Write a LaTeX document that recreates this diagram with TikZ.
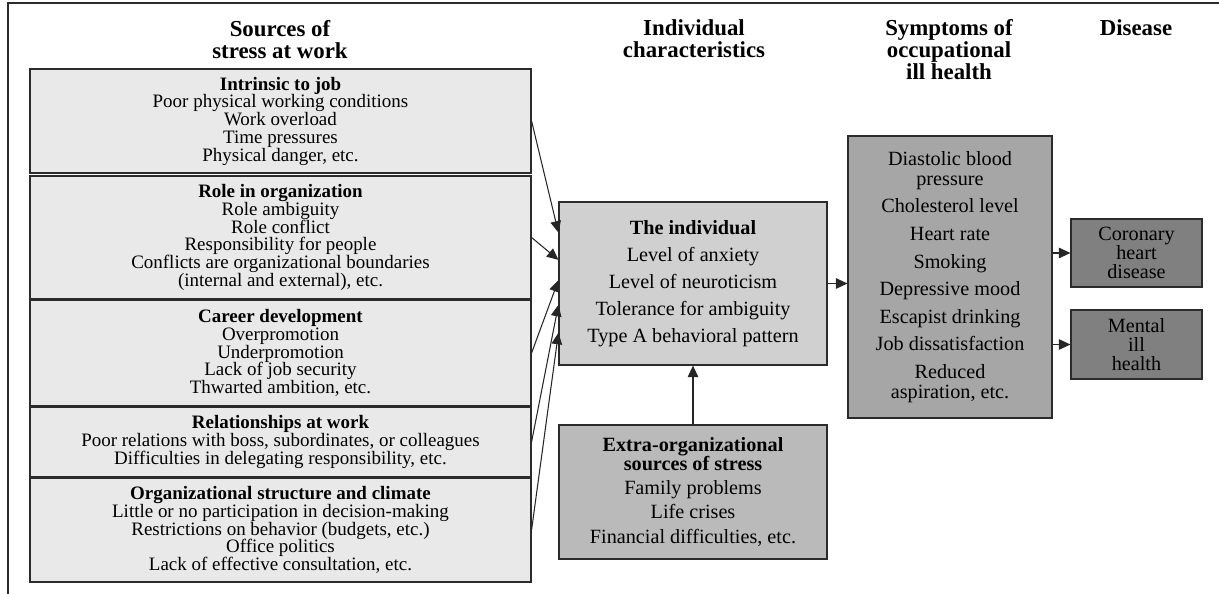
\documentclass[tikz,border=0pt]{standalone}
\usepackage{fontspec}
\setmainfont{Liberation Serif}
\usetikzlibrary{arrows.meta, calc}
\definecolor{boxline}{HTML}{2B2B2B}
\definecolor{srcfill}{HTML}{E9E9E9}
\definecolor{indfill}{HTML}{D0D0D0}
\definecolor{extfill}{HTML}{BABABA}
\definecolor{symfill}{HTML}{A6A6A6}
\definecolor{disfill}{HTML}{808080}
\tikzset{box/.style = {draw = boxline, line width = 0.7pt, align = center, inner sep = 0pt, font = \fontsize{11.5}{10.8}\selectfont}}
\tikzset{srcbox/.style = {box, fill = srcfill, minimum width = 10.02cm, font = \fontsize{10.8}{10.1}\selectfont}}
\tikzset{hdr/.style = {align = center, font = \fontsize{13}{12.5}\selectfont\bfseries}}
\tikzset{arr/.style = {-{Triangle[length = 0.23cm, width = 0.21cm]}, line width = 0.6pt, draw = black!85}}

\begin{document}
\begin{tikzpicture}[x = 0.02cm, y = -0.02cm]
\useasboundingbox (0,0) rectangle (1219,594);
\draw[boxline, line width = 0.75pt] (8,594) -- (8,3) -- (1219,3);
\node[hdr] (hsrc) at (280,40) {Sources of\\stress at work};
\node[hdr] (hind) at (694,39) {Individual\\characteristics};
\node[hdr] (hsym) at (949,50) {Symptoms of\\occupational\\ill health};
\node[hdr] (hdis) at (1136,28) {Disease};
\node[srcbox, minimum height = 2.08cm] (job) at (280.5,121) {\textbf{Intrinsic to job}\\Poor physical working conditions\\Work overload\\Time pressures\\Physical danger, etc.};
\node[srcbox, minimum height = 2.46cm] (role) at (280.5,237.5) {\textbf{Role in organization}\\Role ambiguity\\Role conflict\\Responsibility for people\\Conflicts are organizational boundaries\\(internal and external), etc.};
\node[srcbox, minimum height = 2.12cm] (career) at (280.5,353) {\textbf{Career development}\\Overpromotion\\Underpromotion\\Lack of job security\\Thwarted ambition, etc.};
\node[srcbox, minimum height = 1.40cm] (rel) at (280.5,442) {\textbf{Relationships at work}\\Poor relations with boss, subordinates, or colleagues\\Difficulties in delegating responsibility, etc.};
\node[srcbox, minimum height = 2.08cm] (org) at (280.5,530) {\textbf{Organizational structure and climate}\\Little or no participation in decision-making\\Restrictions on behavior (budgets, etc.)\\Office politics\\Lack of effective consultation, etc.};
\node[box, fill = indfill, minimum width = 5.36cm, minimum height = 3.26cm, font = \fontsize{11.5}{15.4}\selectfont] (ind) at (693,283.5) {\textbf{The individual}\\Level of anxiety\\Level of neuroticism\\Tolerance for ambiguity\\Type A behavioral pattern};
\node[box, fill = extfill, minimum width = 5.36cm, minimum height = 2.68cm] (ext) at (693,492) {\textbf{Extra-organizational}\\\textbf{sources of stress}\\[2.9pt]Family problems\\[2.9pt]Life crises\\[2.9pt]Financial difficulties, etc.};
\node[box, fill = symfill, minimum width = 4.08cm, minimum height = 5.64cm, font = \fontsize{11.5}{11.4}\selectfont] (sym) at (950,277) {Diastolic blood\\pressure\\[4.3pt]Cholesterol level\\[4.3pt]Heart rate\\[4.3pt]Smoking\\[4.3pt]Depressive mood\\[4.3pt]Escapist drinking\\[4.3pt]Job dissatisfaction\\[4.3pt]Reduced\\aspiration, etc.};
\node[box, fill = disfill, minimum width = 2.62cm, minimum height = 1.36cm] (chd) at (1136.5,253) {Coronary\\heart\\disease};
\node[box, fill = disfill, minimum width = 2.62cm, minimum height = 1.38cm] (ment) at (1136.5,344.5) {Mental\\ill\\health};
\draw[arr] (job.east) -- ($(ind.north west)!0.19!(ind.south west)$);
\draw[arr] (role.east) -- ($(ind.north west)!0.356!(ind.south west)$);
\draw[arr] (career.east) -- ($(ind.north west)!0.48!(ind.south west)$);
\draw[arr] (rel.east) -- ($(ind.north west)!0.63!(ind.south west)$);
\draw[arr] (org.east) -- ($(ind.north west)!0.80!(ind.south west)$);
\draw[arr] (ext.north) -- (ind.south);
\draw[arr] (ind.east) -- (ind.east -| sym.west);
\draw[arr] (chd.west -| sym.east) -- (chd.west);
\draw[arr] (ment.west -| sym.east) -- (ment.west);
\end{tikzpicture}
\end{document}
